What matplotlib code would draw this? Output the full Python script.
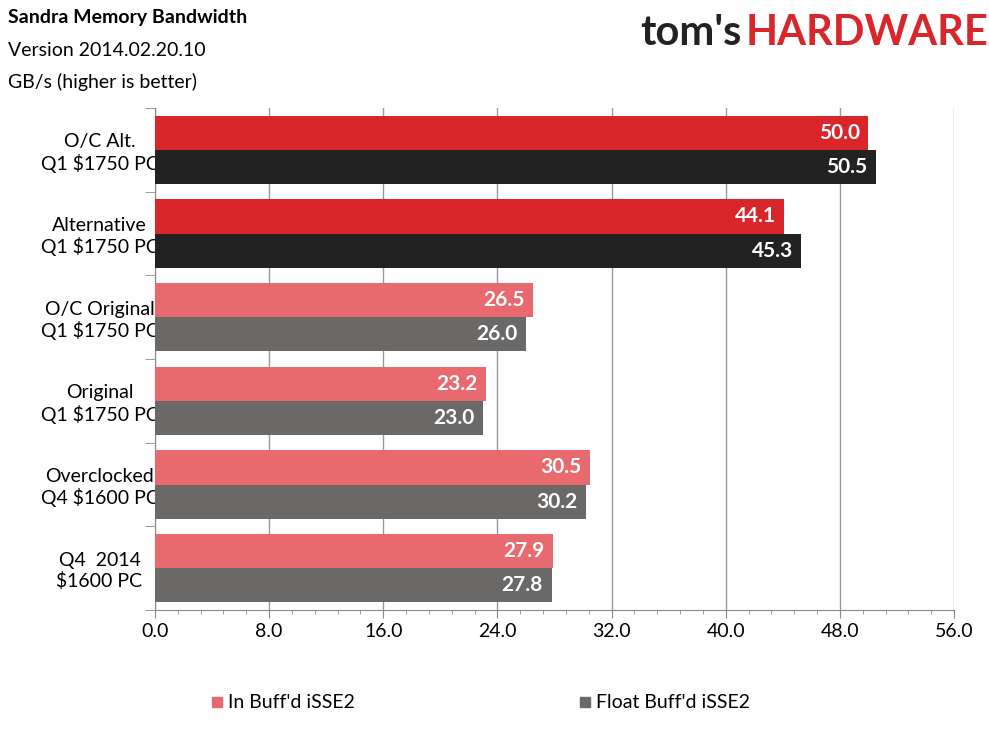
import numpy as np
import matplotlib.pyplot as plt

categories = ["O/C Alt.\nQ1 $1750 PC", "Alternative\nQ1 $1750 PC", "O/C Original\nQ1 $1750 PC",
              "Original\nQ1 $1750 PC", "Overclocked\nQ4 $1600 PC", "Q4  2014\n$1600 PC"]
in_buff = [50.0, 44.1, 26.5, 23.2, 30.5, 27.9]
float_buff = [50.5, 45.3, 26.0, 23.0, 30.2, 27.8]

plt.rcParams['font.family'] = ['Lato', 'DejaVu Sans']
fig = plt.figure(figsize=(9.89, 7.41), dpi=100)
ax = fig.add_axes([155/989, 131/741, 799/989, 502/741])

n = len(categories)
y = np.arange(n)
h = 0.41
red = ['#d9262b', '#d9262b'] + ['#e8696e'] * 4
dark = ['#222222', '#222222'] + ['#6b6868'] * 4
ax.barh(y - h/2, in_buff, height=h, color=red, zorder=3)
ax.barh(y + h/2, float_buff, height=h, color=dark, zorder=3)
for i in range(n):
    ax.text(in_buff[i] - 0.6, y[i] - h/2, f"{in_buff[i]:.1f}", ha='right', va='center',
            color='white', fontsize=15, fontweight='bold', zorder=4)
    ax.text(float_buff[i] - 0.6, y[i] + h/2, f"{float_buff[i]:.1f}", ha='right', va='center',
            color='white', fontsize=15, fontweight='bold', zorder=4)

ax.set_ylim(n - 0.5, -0.5)
ax.set_xlim(0, 56)
ax.set_xticks(np.arange(0, 57, 8))
ax.set_xticklabels([f"{v:.1f}" for v in np.arange(0, 57, 8)], fontsize=14)
ax.set_xticks(np.arange(0, 56.1, 1.6), minor=True)
ax.set_yticks(y)
ax.set_yticklabels(categories, fontsize=14, ha='center')
ax.tick_params(axis='y', length=0, pad=40)
ax.set_yticks(np.arange(-0.5, n, 1), minor=True)
ax.tick_params(axis='y', which='minor', length=7, color='#888888')
ax.tick_params(axis='x', which='major', length=6, color='#888888')
ax.tick_params(axis='x', which='minor', length=3, color='#888888')
ax.grid(axis='x', color='#999999', linewidth=1, zorder=0)
for s in ['top', 'right']:
    ax.spines[s].set_visible(False)
for s in ['left', 'bottom']:
    ax.spines[s].set_color('#888888')

fig.text(8/989, 1 - 18/741, "Sandra Memory Bandwidth", fontsize=14, fontweight='bold', va='center')
fig.text(8/989, 1 - 50/741, "Version 2014.02.20.10", fontsize=14, va='center')
fig.text(8/989, 1 - 82/741, "GB/s (higher is better)", fontsize=14, va='center')

t = fig.text(640/989, 1 - 33/741, "tom's", fontsize=30, fontweight='bold', color='#222222', va='center')
fig.canvas.draw()
bb = t.get_window_extent()
fig.text(bb.x1/989 + 0.004, 1 - 33/741, "HARDWARE", fontsize=30, fontweight='bold', color='#d9262b', va='center')

fig.patches.append(plt.Rectangle((212/989, 1 - 707/741), 10/989, 10/741, transform=fig.transFigure, color='#e8696e'))
fig.text(228/989, 1 - 702/741, "In Buff'd iSSE2", fontsize=14, va='center')
fig.patches.append(plt.Rectangle((580/989, 1 - 707/741), 10/989, 10/741, transform=fig.transFigure, color='#6b6868'))
fig.text(596/989, 1 - 702/741, "Float Buff'd iSSE2", fontsize=14, va='center')

fig.savefig("out.png", dpi=100)
